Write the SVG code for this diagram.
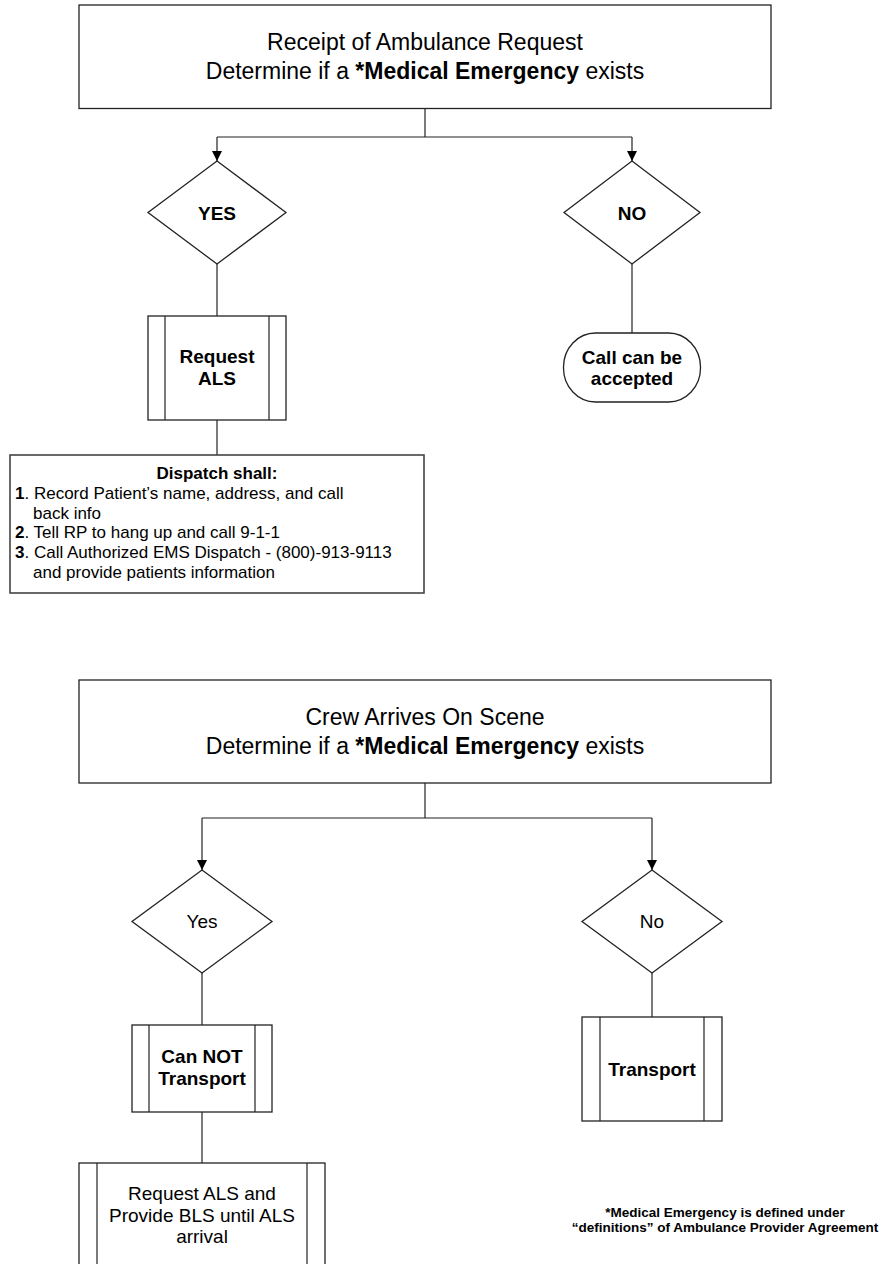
<svg xmlns="http://www.w3.org/2000/svg" width="883" height="1264" viewBox="0 0 883 1264">
<defs>
<style>
.s{fill:#fff;stroke:#222;stroke-width:1.3}
.c{fill:none;stroke:#222;stroke-width:1.2}
.t{font-family:"Liberation Sans",Arial,sans-serif;fill:#000}
.m{text-anchor:middle}
.b{font-weight:bold}
.big{font-size:23px}
.n19{font-size:19px}
.n17{font-size:17px}
.fn{font-size:13.5px}
</style>
<marker id="ah" viewBox="0 0 10 10" refX="10" refY="5" markerWidth="10" markerHeight="10" markerUnits="userSpaceOnUse" orient="auto">
<path d="M0,0 L10,5 L0,10 Z" fill="#000"/>
</marker>
</defs>
<rect width="883" height="1264" fill="#fff"/>

<g id="connectors">
<path class="c" d="M425,108.5 V137"/>
<path class="c" d="M217,137 H632"/>
<path class="c" d="M217,137 V161" marker-end="url(#ah)"/>
<path class="c" d="M632,137 V161" marker-end="url(#ah)"/>
<path class="c" d="M217,264 V316"/>
<path class="c" d="M632,264 V333"/>
<path class="c" d="M217,420 V455"/>
<path class="c" d="M425,783 V818"/>
<path class="c" d="M202,818 H652"/>
<path class="c" d="M202,818 V870" marker-end="url(#ah)"/>
<path class="c" d="M652,818 V870" marker-end="url(#ah)"/>
<path class="c" d="M202,973 V1025"/>
<path class="c" d="M652,973 V1017"/>
<path class="c" d="M202,1112 V1163"/>
</g>

<g id="n-receipt">
<rect class="s" x="79" y="5" width="692" height="103.5"/>
<text class="t m big" x="425" y="50">Receipt of Ambulance Request</text>
<text class="t m big" x="425" y="79">Determine if a <tspan class="b">*Medical Emergency</tspan> exists</text>
</g>

<g id="n-yes1">
<polygon class="s" points="217,161 286,212.5 217,264 148,212.5"/>
<text class="t m b n19" x="217" y="219.5">YES</text>
</g>

<g id="n-no1">
<polygon class="s" points="632,161 700,212.5 632,264 564,212.5"/>
<text class="t m b n19" x="632" y="219.5">NO</text>
</g>

<g id="n-request-als">
<rect class="s" x="148" y="316" width="138" height="104"/>
<path class="c" d="M165,316 V420 M269,316 V420"/>
<text class="t m b n19" x="217" y="363">Request</text>
<text class="t m b n19" x="217" y="385">ALS</text>
</g>

<g id="n-accepted">
<rect class="s" x="563.5" y="333" width="137" height="69" rx="32" ry="34"/>
<text class="t m b n19" x="632" y="364">Call can be</text>
<text class="t m b n19" x="632" y="385">accepted</text>
</g>

<g id="n-dispatch">
<rect class="s" x="10" y="455" width="414" height="138" style="stroke:#444;stroke-width:1.6"/>
<text class="t m b n17" x="217" y="479">Dispatch shall:</text>
<text class="t n17" x="15" y="499"><tspan class="b">1</tspan>. Record Patient’s name, address, and call</text>
<text class="t n17" x="33" y="518.5">back info</text>
<text class="t n17" x="15" y="538"><tspan class="b">2</tspan>. Tell RP to hang up and call 9-1-1</text>
<text class="t n17" x="15" y="558"><tspan class="b">3</tspan>. Call Authorized EMS Dispatch - (800)-913-9113</text>
<text class="t n17" x="33" y="577.5">and provide patients information</text>
</g>

<g id="n-crew">
<rect class="s" x="79" y="680" width="692" height="103"/>
<text class="t m big" x="425" y="725">Crew Arrives On Scene</text>
<text class="t m big" x="425" y="754">Determine if a <tspan class="b">*Medical Emergency</tspan> exists</text>
</g>

<g id="n-yes2">
<polygon class="s" points="202,870 272,921.5 202,973 132,921.5"/>
<text class="t m n19" x="202" y="928">Yes</text>
</g>

<g id="n-no2">
<polygon class="s" points="652,870 722,921.5 652,973 582,921.5"/>
<text class="t m n19" x="652" y="928">No</text>
</g>

<g id="n-cannot">
<rect class="s" x="132" y="1025" width="140" height="87"/>
<path class="c" d="M149,1025 V1112 M255,1025 V1112"/>
<text class="t m b n19" x="202" y="1063">Can NOT</text>
<text class="t m b n19" x="202" y="1085">Transport</text>
</g>

<g id="n-transport">
<rect class="s" x="582" y="1017" width="140" height="104"/>
<path class="c" d="M600,1017 V1121 M704,1017 V1121"/>
<text class="t m b n19" x="652" y="1076">Transport</text>
</g>

<g id="n-request-bls">
<rect class="s" x="79" y="1163" width="246" height="110"/>
<path class="c" d="M97,1163 V1273 M307,1163 V1273"/>
<text class="t m n19" x="202" y="1200">Request ALS and</text>
<text class="t m n19" x="202" y="1222">Provide BLS until ALS</text>
<text class="t m n19" x="202" y="1243">arrival</text>
</g>

<g id="footnote">
<text class="t m b fn" x="725" y="1217">*Medical Emergency is defined under</text>
<text class="t m b fn" x="725" y="1232">“definitions” of Ambulance Provider Agreement</text>
</g>
</svg>
